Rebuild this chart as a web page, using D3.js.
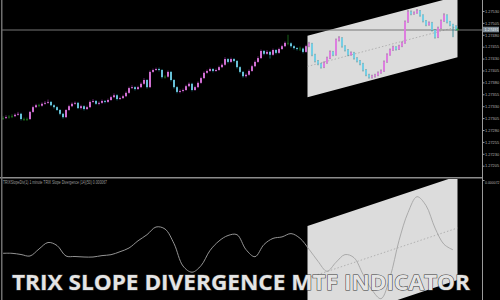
<!DOCTYPE html>
<html lang="en">
<head>
<meta charset="UTF-8">
<title>TRIX Slope Divergence MTF Indicator</title>
<script src="https://cdnjs.cloudflare.com/ajax/libs/d3/7.8.5/d3.min.js"></script>
<style>
    body { margin: 0; background: #000; overflow: hidden; }
    svg { display: block; }
    .axis text { font-family: "Liberation Sans", Arial, sans-serif; font-size: 3.9px; fill: #b4b4b4; }
    .axis line { stroke: #9a9a9a; }
    .title {
        font-family: "Open Sans", sans-serif;
        font-weight: 700;
        font-size: 21px;
        fill: #e4e4e4;
        stroke: #3a3a3a;
        stroke-width: 1;
        paint-order: stroke;
    }
</style>
</head>
<body>
<svg width="500" height="300"></svg>
<script>
// one candle per bar (M1), oldest first
const opens = [
    1.27304, 1.27305, 1.27307, 1.27308, 1.27309, 1.27312, 1.27314, 1.27303, 1.27302, 1.27303,
    1.27318, 1.27328, 1.27332, 1.27331, 1.27335, 1.27337, 1.27339, 1.27332, 1.27328, 1.27322,
    1.27314, 1.27307, 1.27322, 1.27330, 1.27335, 1.27337, 1.27326, 1.27330, 1.27324, 1.27328,
    1.27339, 1.27341, 1.27335, 1.27337, 1.27341, 1.27339, 1.27343, 1.27349, 1.27353, 1.27345,
    1.27347, 1.27351, 1.27358, 1.27368, 1.27370, 1.27366, 1.27370, 1.27377, 1.27385, 1.27370,
    1.27402, 1.27406, 1.27408, 1.27406, 1.27391, 1.27392, 1.27402, 1.27385, 1.27370, 1.27360,
    1.27362, 1.27364, 1.27372, 1.27377, 1.27364, 1.27370, 1.27379, 1.27389, 1.27400, 1.27404,
    1.27408, 1.27404, 1.27406, 1.27412, 1.27417, 1.27429, 1.27423, 1.27429, 1.27425, 1.27412,
    1.27402, 1.27393, 1.27396, 1.27404, 1.27414, 1.27423, 1.27431, 1.27446, 1.27440, 1.27444,
    1.27438, 1.27448, 1.27442, 1.27450, 1.27456, 1.27463, 1.27462, 1.27456, 1.27452, 1.27450,
    1.27451, 1.27444, 1.27456, 1.27461, 1.27438, 1.27425, 1.27419, 1.27412, 1.27421, 1.27431,
    1.27444, 1.27438, 1.27469, 1.27473, 1.27456, 1.27448, 1.27438, 1.27442, 1.27431, 1.27425,
    1.27419, 1.27406, 1.27396, 1.27391, 1.27393, 1.27395, 1.27400, 1.27404, 1.27423, 1.27438,
    1.27448, 1.27454, 1.27450, 1.27456, 1.27463, 1.27507, 1.27528, 1.27524, 1.27526, 1.27530,
    1.27521, 1.27509, 1.27501, 1.27505, 1.27490, 1.27475, 1.27494, 1.27509, 1.27521, 1.27507,
    1.27501, 1.27498
];
const highs = [
    1.27309, 1.27311, 1.27311, 1.27313, 1.27315, 1.27318, 1.27316, 1.27306, 1.27306, 1.27320,
    1.27331, 1.27335, 1.27335, 1.27338, 1.27341, 1.27344, 1.27341, 1.27334, 1.27330, 1.27324,
    1.27316, 1.27324, 1.27333, 1.27338, 1.27340, 1.27339, 1.27333, 1.27332, 1.27331, 1.27342,
    1.27345, 1.27343, 1.27340, 1.27344, 1.27343, 1.27346, 1.27352, 1.27357, 1.27355, 1.27350,
    1.27354, 1.27361, 1.27371, 1.27374, 1.27372, 1.27373, 1.27380, 1.27389, 1.27387, 1.27405,
    1.27409, 1.27411, 1.27411, 1.27408, 1.27395, 1.27405, 1.27404, 1.27387, 1.27372, 1.27365,
    1.27367, 1.27375, 1.27380, 1.27379, 1.27373, 1.27382, 1.27392, 1.27403, 1.27407, 1.27411,
    1.27410, 1.27409, 1.27415, 1.27420, 1.27433, 1.27431, 1.27432, 1.27431, 1.27427, 1.27414,
    1.27404, 1.27399, 1.27407, 1.27417, 1.27426, 1.27435, 1.27449, 1.27448, 1.27448, 1.27446,
    1.27451, 1.27450, 1.27453, 1.27459, 1.27466, 1.27480, 1.27464, 1.27458, 1.27454, 1.27455,
    1.27453, 1.27459, 1.27465, 1.27463, 1.27440, 1.27427, 1.27421, 1.27424, 1.27434, 1.27447,
    1.27446, 1.27472, 1.27477, 1.27475, 1.27458, 1.27450, 1.27445, 1.27444, 1.27433, 1.27427,
    1.27421, 1.27408, 1.27398, 1.27396, 1.27398, 1.27403, 1.27407, 1.27426, 1.27441, 1.27451,
    1.27457, 1.27456, 1.27459, 1.27466, 1.27510, 1.27532, 1.27531, 1.27529, 1.27534, 1.27532,
    1.27523, 1.27511, 1.27508, 1.27507, 1.27492, 1.27497, 1.27512, 1.27525, 1.27523, 1.27509,
    1.27503, 1.27500
];
const lows = [
    1.27301, 1.27303, 1.27304, 1.27305, 1.27307, 1.27310, 1.27300, 1.27299, 1.27299, 1.27301,
    1.27316, 1.27326, 1.27328, 1.27329, 1.27333, 1.27335, 1.27330, 1.27325, 1.27320, 1.27311,
    1.27304, 1.27305, 1.27320, 1.27328, 1.27333, 1.27324, 1.27323, 1.27321, 1.27322, 1.27326,
    1.27337, 1.27333, 1.27332, 1.27335, 1.27336, 1.27337, 1.27341, 1.27347, 1.27342, 1.27343,
    1.27345, 1.27349, 1.27356, 1.27366, 1.27363, 1.27364, 1.27368, 1.27375, 1.27367, 1.27368,
    1.27400, 1.27404, 1.27403, 1.27388, 1.27388, 1.27390, 1.27382, 1.27367, 1.27357, 1.27357,
    1.27359, 1.27362, 1.27370, 1.27361, 1.27362, 1.27368, 1.27377, 1.27387, 1.27398, 1.27402,
    1.27401, 1.27402, 1.27404, 1.27410, 1.27415, 1.27420, 1.27421, 1.27422, 1.27409, 1.27399,
    1.27390, 1.27390, 1.27394, 1.27402, 1.27412, 1.27421, 1.27429, 1.27437, 1.27438, 1.27430,
    1.27436, 1.27439, 1.27440, 1.27448, 1.27454, 1.27458, 1.27453, 1.27449, 1.27447, 1.27446,
    1.27441, 1.27442, 1.27454, 1.27435, 1.27422, 1.27416, 1.27409, 1.27410, 1.27419, 1.27429,
    1.27435, 1.27436, 1.27466, 1.27453, 1.27445, 1.27435, 1.27436, 1.27428, 1.27422, 1.27416,
    1.27403, 1.27393, 1.27388, 1.27388, 1.27390, 1.27393, 1.27398, 1.27402, 1.27421, 1.27436,
    1.27446, 1.27447, 1.27448, 1.27454, 1.27461, 1.27505, 1.27521, 1.27522, 1.27524, 1.27518,
    1.27506, 1.27498, 1.27499, 1.27487, 1.27472, 1.27473, 1.27492, 1.27507, 1.27504, 1.27498,
    1.27475, 1.27488
];
const closes = [
    1.27305, 1.27307, 1.27308, 1.27309, 1.27312, 1.27314, 1.27303, 1.27302, 1.27303, 1.27318,
    1.27328, 1.27332, 1.27331, 1.27335, 1.27337, 1.27339, 1.27332, 1.27328, 1.27322, 1.27314,
    1.27307, 1.27322, 1.27330, 1.27335, 1.27337, 1.27326, 1.27330, 1.27324, 1.27328, 1.27339,
    1.27341, 1.27335, 1.27337, 1.27341, 1.27339, 1.27343, 1.27349, 1.27353, 1.27345, 1.27347,
    1.27351, 1.27358, 1.27368, 1.27370, 1.27366, 1.27370, 1.27377, 1.27385, 1.27370, 1.27402,
    1.27406, 1.27408, 1.27406, 1.27391, 1.27392, 1.27402, 1.27385, 1.27370, 1.27360, 1.27362,
    1.27364, 1.27372, 1.27377, 1.27364, 1.27370, 1.27379, 1.27389, 1.27400, 1.27404, 1.27408,
    1.27404, 1.27406, 1.27412, 1.27417, 1.27429, 1.27423, 1.27429, 1.27425, 1.27412, 1.27402,
    1.27393, 1.27396, 1.27404, 1.27414, 1.27423, 1.27431, 1.27446, 1.27440, 1.27444, 1.27438,
    1.27448, 1.27442, 1.27450, 1.27456, 1.27463, 1.27462, 1.27456, 1.27452, 1.27450, 1.27451,
    1.27444, 1.27456, 1.27461, 1.27438, 1.27425, 1.27419, 1.27412, 1.27421, 1.27431, 1.27444,
    1.27438, 1.27469, 1.27473, 1.27456, 1.27448, 1.27438, 1.27442, 1.27431, 1.27425, 1.27419,
    1.27406, 1.27396, 1.27391, 1.27393, 1.27395, 1.27400, 1.27404, 1.27423, 1.27438, 1.27448,
    1.27454, 1.27450, 1.27456, 1.27463, 1.27507, 1.27528, 1.27524, 1.27526, 1.27530, 1.27521,
    1.27509, 1.27501, 1.27505, 1.27490, 1.27475, 1.27494, 1.27509, 1.27521, 1.27507, 1.27501,
    1.27498, 1.27491
];

// regression channel on the price chart (bar index, upper, lower)
const channelBars = [102, 152];
const channelTop = [1.27478, 1.27561];
const channelBottom = [1.27349, 1.27433];

// TRIX slope divergence, sampled every 3rd bar
const trix = [
    -1.3e-6, -1.3e-6, -2.5e-6, -4e-6, 3e-6, 9.5e-6, 6.5e-6, -4e-6, -4.5e-6, -5e-6,
    -5e-6, -3.6e-6, -2.7e-6, 0.3e-6, 4e-6, 11.2e-6, 17.3e-6, 25e-6, 23e-6, 8.4e-6,
    -14e-6, -20.2e-6, -13.7e-6, 1.5e-6, 11e-6, 16.5e-6, 17.3e-6, 2.4e-6, -4.7e-6, 7.5e-6,
    13.6e-6, 15.1e-6, 18.4e-6, 13.7e-6, 2.8e-6, -9.3e-6, -19.3e-6, -10.3e-6, -2.6e-6, -5.7e-6,
    -22.3e-6, -38e-6, -46.7e-6, -25.3e-6, 11.4e-6, 39.4e-6, 55.3e-6, 46.5e-6, 24e-6, 7.7e-6,
    2.2e-6
];
const trixChannelTop = [26e-6, 76e-6];
const trixChannelBottom = [-78e-6, -28e-6];

const priceTicks = [1.27530, 1.27505, 1.27480, 1.27455, 1.27430, 1.27405, 1.27380,
    1.27355, 1.27330, 1.27305, 1.27280, 1.27255, 1.27230, 1.27205];
const trixTicks = [0.000072];
const indicatorLabel = "TRIXSlopeDiv(1) 1 minute TRIX Slope Divergence (14)(50) 0.000067";
const title = "TRIX SLOPE DIVERGENCE MTF INDICATOR";

const svg = d3.select("svg");
const axisX = 482;

const x = d3.scaleLinear().domain([0, closes.length]).range([1.5, 457.5]);
const yPrice = d3.scaleLinear().domain([1.271813, 1.27553]).range([177, 0]);
const yTrix = d3.scaleLinear().domain([-0.000048, 0.000072]).range([300, 180]);

const defs = svg.append("defs");
defs.append("clipPath").attr("id", "clipMain")
    .append("rect").attr("x", 2).attr("y", 0).attr("width", axisX - 2).attr("height", 177);
defs.append("clipPath").attr("id", "clipSub")
    .append("rect").attr("x", 2).attr("y", 179).attr("width", axisX - 2).attr("height", 121);

// ---- main price window ----
const main = svg.append("g").attr("clip-path", "url(#clipMain)");

const chan = channelBars.map((b, i) => ({ b, top: channelTop[i], bot: channelBottom[i] }));
main.append("path")
    .datum(chan)
    .attr("fill", "#dcdcdc")
    .attr("d", d3.area().x(d => x(d.b)).y0(d => yPrice(d.bot)).y1(d => yPrice(d.top)));
main.append("path")
    .datum(chan)
    .attr("fill", "none")
    .attr("stroke", "#a6a6a6")
    .attr("stroke-width", 0.8)
    .attr("stroke-dasharray", "1.5,2")
    .attr("d", d3.line().x(d => x(d.b)).y(d => yPrice((d.top + d.bot) / 2)));

const last = closes[closes.length - 1];
main.append("line")
    .attr("x1", 2).attr("x2", axisX)
    .attr("y1", Math.round(yPrice(last))).attr("y2", Math.round(yPrice(last)))
    .attr("stroke", "#777").attr("stroke-width", 1);

const bars = closes.map((c, i) => ({ i, o: opens[i], h: highs[i], l: lows[i], c }));
const kind = d => Math.abs(d.c - d.o) < 0.000015 ? "doji" : (d.c > d.o ? "up" : "down");
const wickColor = { up: "#7d2c86", down: "#1b7d8a", doji: "#1d7a1d" };
const bodyColor = { up: "#e27ae4", down: "#72d0e8", doji: "#1d7a1d" };

const candle = main.append("g").selectAll("g")
    .data(bars)
    .enter().append("g");
candle.append("line")
    .attr("x1", d => x(d.i + 0.5)).attr("x2", d => x(d.i + 0.5))
    .attr("y1", d => yPrice(d.h)).attr("y2", d => yPrice(d.l))
    .attr("stroke", d => wickColor[kind(d)])
    .attr("stroke-width", 0.8);
candle.append("rect")
    .attr("x", d => x(d.i + 0.5) - 0.9)
    .attr("width", 1.8)
    .attr("y", d => yPrice(Math.max(d.o, d.c)))
    .attr("height", d => Math.max(0.8, Math.abs(yPrice(d.o) - yPrice(d.c))))
    .attr("fill", d => bodyColor[kind(d)]);

main.append("circle")
    .attr("cx", x(closes.length)).attr("cy", yPrice(last))
    .attr("r", 1.1).attr("fill", "#2a9a2a");

// ---- indicator window ----
const sub = svg.append("g").attr("clip-path", "url(#clipSub)");
const tchan = channelBars.map((b, i) => ({ b, top: trixChannelTop[i], bot: trixChannelBottom[i] }));
sub.append("path")
    .datum(tchan)
    .attr("fill", "#dcdcdc")
    .attr("d", d3.area().x(d => x(d.b)).y0(d => yTrix(d.bot)).y1(d => yTrix(d.top)));
sub.append("path")
    .datum(tchan)
    .attr("fill", "none")
    .attr("stroke", "#a6a6a6")
    .attr("stroke-width", 0.8)
    .attr("stroke-dasharray", "1.5,2")
    .attr("d", d3.line().x(d => x(d.b)).y(d => yTrix((d.top + d.bot) / 2)));
sub.append("path")
    .datum(trix)
    .attr("fill", "none")
    .attr("stroke", "#a4a4a4")
    .attr("stroke-width", 0.9)
    .attr("d", d3.line()
        .x((d, j) => x(j * 3 + 0.5))
        .y(d => yTrix(d))
        .curve(d3.curveCatmullRom.alpha(0.5)));

// ---- frame ----
svg.append("rect").attr("x", 0).attr("y", 177).attr("width", axisX).attr("height", 1.5).attr("fill", "#8c8c8c");
svg.append("rect").attr("x", 1).attr("y", 0).attr("width", 1.5).attr("height", 300).attr("fill", "#6e6e6e");
svg.append("line")
    .attr("x1", axisX + 0.5).attr("x2", axisX + 0.5).attr("y1", 0).attr("y2", 300)
    .attr("stroke", "#9a9a9a").attr("stroke-width", 1);

svg.append("text")
    .attr("x", 3).attr("y", 183.5)
    .attr("font-family", "Liberation Sans, Arial, sans-serif")
    .attr("font-size", 4.6)
    .attr("fill", "#9c9c9c")
    .attr("textLength", 104)
    .attr("lengthAdjust", "spacingAndGlyphs")
    .text(indicatorLabel);

// ---- axes ----
svg.append("g")
    .attr("class", "axis")
    .attr("transform", `translate(${axisX + 0.5},0)`)
    .call(d3.axisRight(yPrice).tickValues(priceTicks).tickSize(2).tickPadding(0.5).tickFormat(d3.format(".5f")))
    .call(g => g.select(".domain").remove());
svg.append("g")
    .attr("class", "axis")
    .attr("transform", `translate(${axisX + 0.5},0)`)
    .call(d3.axisRight(yTrix).tickValues(trixTicks).tickSize(2).tickPadding(0.5).tickFormat(d3.format(".6f")))
    .call(g => g.select(".domain").remove())
    .selectAll("text")
    .attr("dy", "0.9em")
    .attr("textLength", 14.5)
    .attr("lengthAdjust", "spacingAndGlyphs");

// current price marker
const pm = svg.append("g").attr("transform", `translate(${axisX + 1},${yPrice(last)})`);
pm.append("rect").attr("x", 0).attr("y", -2.8).attr("width", 16).attr("height", 5.6).attr("fill", "#7c8994");
pm.append("text")
    .attr("x", 1.5).attr("y", 1.4)
    .attr("font-family", "Liberation Sans, Arial, sans-serif")
    .attr("font-size", 3.9).attr("fill", "#eef2f5")
    .text(d3.format(".5f")(last));

// ---- banner ----
svg.append("text")
    .attr("class", "title")
    .attr("x", 12).attr("y", 290)
    .attr("textLength", 458)
    .attr("lengthAdjust", "spacingAndGlyphs")
    .text(title);
</script>
</body>
</html>
